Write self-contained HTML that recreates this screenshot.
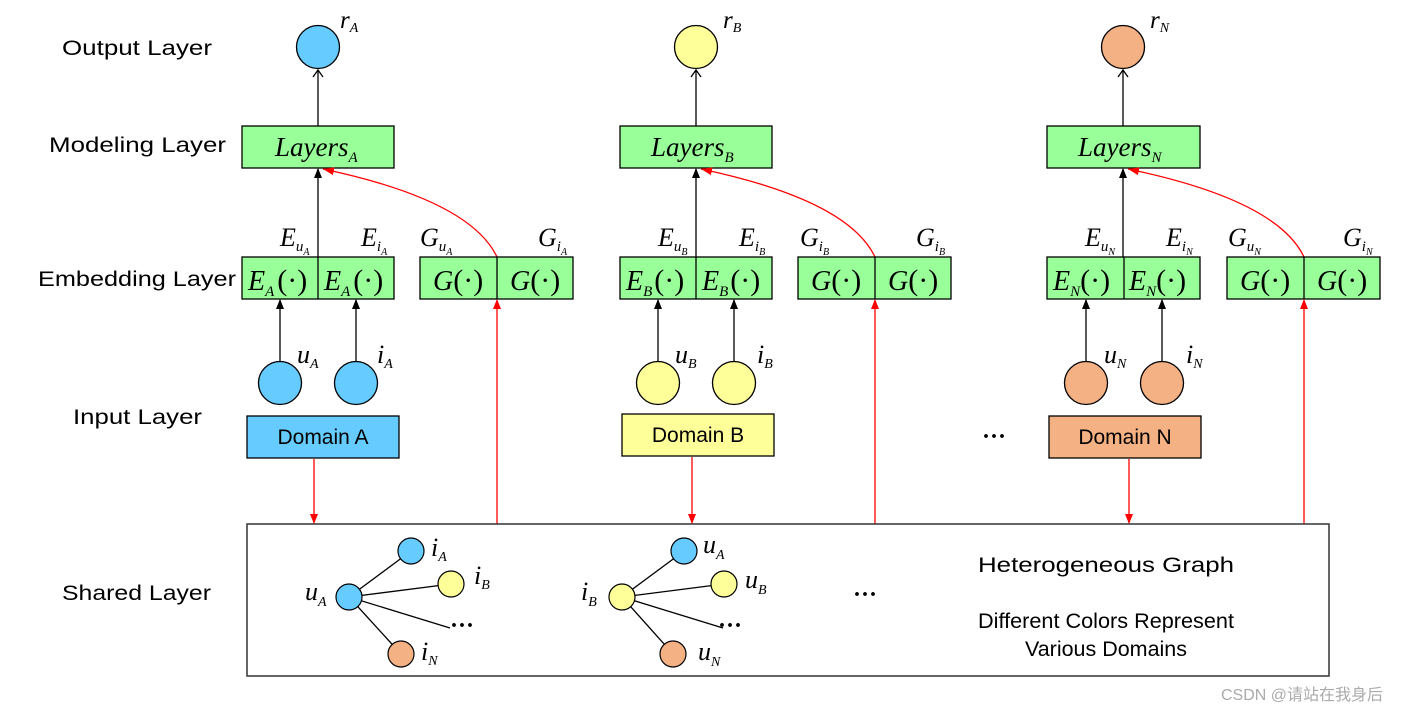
<!DOCTYPE html>
<html><head><meta charset="utf-8"><style>
html,body{margin:0;padding:0;background:#fff;}
svg{display:block;}
.lbl{font-family:"Liberation Sans",sans-serif;font-size:21px;fill:#000;}
.m{font-family:"Liberation Serif",serif;font-style:italic;fill:#000;}
.u{font-family:"Liberation Serif",serif;fill:#000;}
</style></head><body>
<svg width="1427" height="712" viewBox="0 0 1427 712" xmlns="http://www.w3.org/2000/svg">
<defs>
<marker id="ab" markerWidth="10" markerHeight="10" refX="9" refY="5" orient="auto" markerUnits="userSpaceOnUse" viewBox="0 0 10 10"><path d="M0,1 L10,5 L0,9 Z" fill="#000"/></marker>
<marker id="ar" markerWidth="10" markerHeight="10" refX="9" refY="5" orient="auto" markerUnits="userSpaceOnUse" viewBox="0 0 10 10"><path d="M0,1 L10,5 L0,9 Z" fill="#f00"/></marker>
<marker id="arc" markerWidth="12" markerHeight="12" refX="11" refY="5" orient="auto" markerUnits="userSpaceOnUse" viewBox="0 0 12 10"><path d="M0,1 L11,5 L0,9 Z" fill="#f00"/></marker>
<marker id="ao" markerWidth="12" markerHeight="12" refX="6" refY="1" orient="0" markerUnits="userSpaceOnUse" viewBox="0 0 12 12"><path d="M1,8 L6,1 L11,8" fill="none" stroke="#000" stroke-width="1.3"/></marker>
</defs>

<!-- left labels -->
<text class="lbl" x="62" y="55" textLength="150" lengthAdjust="spacingAndGlyphs">Output Layer</text>
<text class="lbl" x="49" y="152" textLength="177" lengthAdjust="spacingAndGlyphs">Modeling Layer</text>
<text class="lbl" x="38" y="286" textLength="198" lengthAdjust="spacingAndGlyphs">Embedding Layer</text>
<text class="lbl" x="73" y="424" textLength="129" lengthAdjust="spacingAndGlyphs">Input Layer</text>
<text class="lbl" x="62" y="600" textLength="149" lengthAdjust="spacingAndGlyphs">Shared Layer</text>

<!-- ===== Column A ===== -->
<g>
<line x1="318" y1="126" x2="318" y2="70" stroke="#000" stroke-width="1.3" marker-end="url(#ao)"/>
<circle cx="318" cy="47" r="21.5" fill="#66ccff" stroke="#000" stroke-width="1.3"/>
<text class="m" x="340" y="28" font-size="25">r<tspan font-size="14" dy="4">A</tspan></text>
<rect x="242" y="126" width="152" height="42" fill="#99ff99" stroke="#000" stroke-width="1.3"/>
<text class="m" x="275" y="156" font-size="27">Layers<tspan font-size="15" dy="6">A</tspan></text>
<line x1="318" y1="257" x2="318" y2="169" stroke="#000" stroke-width="1.3" marker-end="url(#ab)"/>
<path d="M497,257 Q470,200 323,169" fill="none" stroke="#f00" stroke-width="1.3" marker-end="url(#arc)"/>
<rect x="242" y="257" width="152" height="42" fill="#99ff99" stroke="#000" stroke-width="1.3"/>
<line x1="318" y1="257" x2="318" y2="299" stroke="#000" stroke-width="1.3"/>
<text class="m" x="248" y="290" font-size="28">E<tspan font-size="15" dy="6">A</tspan><tspan class="u" font-style="normal" font-size="30" dy="-6" dx="3">(·)</tspan></text>
<text class="m" x="324" y="290" font-size="28">E<tspan font-size="15" dy="6">A</tspan><tspan class="u" font-style="normal" font-size="30" dy="-6" dx="3">(·)</tspan></text>
<rect x="420" y="257" width="153" height="42" fill="#99ff99" stroke="#000" stroke-width="1.3"/>
<line x1="497" y1="257" x2="497" y2="299" stroke="#000" stroke-width="1.3"/>
<text class="m" x="433" y="290" font-size="28">G<tspan class="u" font-style="normal" font-size="30">(·)</tspan></text>
<text class="m" x="510" y="290" font-size="28">G<tspan class="u" font-style="normal" font-size="30">(·)</tspan></text>
<text class="m" x="280" y="246" font-size="26">E<tspan font-size="15" dy="5">u</tspan><tspan font-size="10" dy="4">A</tspan></text>
<text class="m" x="361" y="246" font-size="26">E<tspan font-size="15" dy="5">i</tspan><tspan font-size="10" dy="4">A</tspan></text>
<text class="m" x="420" y="246" font-size="26">G<tspan font-size="15" dy="5">u</tspan><tspan font-size="10" dy="4">A</tspan></text>
<text class="m" x="538" y="246" font-size="26">G<tspan font-size="15" dy="5">i</tspan><tspan font-size="10" dy="4">A</tspan></text>
<line x1="280" y1="362" x2="280" y2="300" stroke="#000" stroke-width="1.3" marker-end="url(#ab)"/>
<line x1="356" y1="362" x2="356" y2="300" stroke="#000" stroke-width="1.3" marker-end="url(#ab)"/>
<circle cx="280" cy="383" r="21.5" fill="#66ccff" stroke="#000" stroke-width="1.3"/>
<circle cx="356" cy="383" r="21.5" fill="#66ccff" stroke="#000" stroke-width="1.3"/>
<text class="m" x="297" y="363" font-size="26">u<tspan font-size="14" dy="5">A</tspan></text>
<text class="m" x="377" y="363" font-size="26">i<tspan font-size="14" dy="5">A</tspan></text>
<rect x="247" y="416" width="152" height="42" fill="#66ccff" stroke="#000" stroke-width="1.3"/>
<text class="lbl" x="323" y="444" text-anchor="middle">Domain A</text>
<line x1="314" y1="459" x2="314" y2="523" stroke="#f00" stroke-width="1.3" marker-end="url(#ar)"/>
<line x1="497" y1="524" x2="497" y2="300" stroke="#f00" stroke-width="1.3" marker-end="url(#ar)"/>
</g>

<!-- ===== Column B ===== -->
<g>
<line x1="696" y1="126" x2="696" y2="70" stroke="#000" stroke-width="1.3" marker-end="url(#ao)"/>
<circle cx="696" cy="47" r="21.5" fill="#ffff99" stroke="#000" stroke-width="1.3"/>
<text class="m" x="723" y="28" font-size="25">r<tspan font-size="14" dy="4">B</tspan></text>
<rect x="620" y="126" width="152" height="42" fill="#99ff99" stroke="#000" stroke-width="1.3"/>
<text class="m" x="651" y="156" font-size="27">Layers<tspan font-size="15" dy="6">B</tspan></text>
<line x1="696" y1="257" x2="696" y2="169" stroke="#000" stroke-width="1.3" marker-end="url(#ab)"/>
<path d="M875,257 Q848,200 701,169" fill="none" stroke="#f00" stroke-width="1.3" marker-end="url(#arc)"/>
<rect x="620" y="257" width="152" height="42" fill="#99ff99" stroke="#000" stroke-width="1.3"/>
<line x1="696" y1="257" x2="696" y2="299" stroke="#000" stroke-width="1.3"/>
<text class="m" x="626" y="290" font-size="28">E<tspan font-size="15" dy="6">B</tspan><tspan class="u" font-style="normal" font-size="30" dy="-6" dx="2">(·)</tspan></text>
<text class="m" x="702" y="290" font-size="28">E<tspan font-size="15" dy="6">B</tspan><tspan class="u" font-style="normal" font-size="30" dy="-6" dx="2">(·)</tspan></text>
<rect x="798" y="257" width="153" height="42" fill="#99ff99" stroke="#000" stroke-width="1.3"/>
<line x1="875" y1="257" x2="875" y2="299" stroke="#000" stroke-width="1.3"/>
<text class="m" x="811" y="290" font-size="28">G<tspan class="u" font-style="normal" font-size="30">(·)</tspan></text>
<text class="m" x="888" y="290" font-size="28">G<tspan class="u" font-style="normal" font-size="30">(·)</tspan></text>
<text class="m" x="658" y="246" font-size="26">E<tspan font-size="15" dy="5">u</tspan><tspan font-size="10" dy="4">B</tspan></text>
<text class="m" x="739" y="246" font-size="26">E<tspan font-size="15" dy="5">i</tspan><tspan font-size="10" dy="4">B</tspan></text>
<text class="m" x="800" y="246" font-size="26">G<tspan font-size="15" dy="5">i</tspan><tspan font-size="10" dy="4">B</tspan></text>
<text class="m" x="916" y="246" font-size="26">G<tspan font-size="15" dy="5">i</tspan><tspan font-size="10" dy="4">B</tspan></text>
<line x1="658" y1="362" x2="658" y2="300" stroke="#000" stroke-width="1.3" marker-end="url(#ab)"/>
<line x1="734" y1="362" x2="734" y2="300" stroke="#000" stroke-width="1.3" marker-end="url(#ab)"/>
<circle cx="658" cy="383" r="21.5" fill="#ffff99" stroke="#000" stroke-width="1.3"/>
<circle cx="734" cy="383" r="21.5" fill="#ffff99" stroke="#000" stroke-width="1.3"/>
<text class="m" x="675" y="363" font-size="26">u<tspan font-size="14" dy="5">B</tspan></text>
<text class="m" x="757" y="363" font-size="26">i<tspan font-size="14" dy="5">B</tspan></text>
<rect x="622" y="414" width="152" height="42" fill="#ffff99" stroke="#000" stroke-width="1.3"/>
<text class="lbl" x="698" y="442" text-anchor="middle">Domain B</text>
<line x1="692" y1="457" x2="692" y2="523" stroke="#f00" stroke-width="1.3" marker-end="url(#ar)"/>
<line x1="875" y1="524" x2="875" y2="300" stroke="#f00" stroke-width="1.3" marker-end="url(#ar)"/>
</g>

<!-- ===== Column N ===== -->
<g>
<line x1="1123" y1="126" x2="1123" y2="70" stroke="#000" stroke-width="1.3" marker-end="url(#ao)"/>
<circle cx="1123" cy="47" r="21.5" fill="#f4b183" stroke="#000" stroke-width="1.3"/>
<text class="m" x="1150" y="28" font-size="25">r<tspan font-size="14" dy="4">N</tspan></text>
<rect x="1047" y="126" width="153" height="42" fill="#99ff99" stroke="#000" stroke-width="1.3"/>
<text class="m" x="1078" y="156" font-size="27">Layers<tspan font-size="15" dy="6">N</tspan></text>
<line x1="1123" y1="257" x2="1123" y2="169" stroke="#000" stroke-width="1.3" marker-end="url(#ab)"/>
<path d="M1304,257 Q1277,200 1128,169" fill="none" stroke="#f00" stroke-width="1.3" marker-end="url(#arc)"/>
<rect x="1047" y="257" width="153" height="42" fill="#99ff99" stroke="#000" stroke-width="1.3"/>
<line x1="1124" y1="257" x2="1124" y2="299" stroke="#000" stroke-width="1.3"/>
<text class="m" x="1053" y="290" font-size="28">E<tspan font-size="15" dy="6">N</tspan><tspan class="u" font-style="normal" font-size="30" dy="-6">(·)</tspan></text>
<text class="m" x="1129" y="290" font-size="28">E<tspan font-size="15" dy="6">N</tspan><tspan class="u" font-style="normal" font-size="30" dy="-6">(·)</tspan></text>
<rect x="1227" y="257" width="153" height="42" fill="#99ff99" stroke="#000" stroke-width="1.3"/>
<line x1="1304" y1="257" x2="1304" y2="299" stroke="#000" stroke-width="1.3"/>
<text class="m" x="1240" y="290" font-size="28">G<tspan class="u" font-style="normal" font-size="30">(·)</tspan></text>
<text class="m" x="1317" y="290" font-size="28">G<tspan class="u" font-style="normal" font-size="30">(·)</tspan></text>
<text class="m" x="1085" y="246" font-size="26">E<tspan font-size="15" dy="5">u</tspan><tspan font-size="10" dy="4">N</tspan></text>
<text class="m" x="1166" y="246" font-size="26">E<tspan font-size="15" dy="5">i</tspan><tspan font-size="10" dy="4">N</tspan></text>
<text class="m" x="1228" y="246" font-size="26">G<tspan font-size="15" dy="5">u</tspan><tspan font-size="10" dy="4">N</tspan></text>
<text class="m" x="1343" y="246" font-size="26">G<tspan font-size="15" dy="5">i</tspan><tspan font-size="10" dy="4">N</tspan></text>
<line x1="1086" y1="362" x2="1086" y2="300" stroke="#000" stroke-width="1.3" marker-end="url(#ab)"/>
<line x1="1162" y1="362" x2="1162" y2="300" stroke="#000" stroke-width="1.3" marker-end="url(#ab)"/>
<circle cx="1086" cy="383" r="21.5" fill="#f4b183" stroke="#000" stroke-width="1.3"/>
<circle cx="1162" cy="383" r="21.5" fill="#f4b183" stroke="#000" stroke-width="1.3"/>
<text class="m" x="1104" y="363" font-size="26">u<tspan font-size="14" dy="5">N</tspan></text>
<text class="m" x="1186" y="363" font-size="26">i<tspan font-size="14" dy="5">N</tspan></text>
<rect x="1049" y="416" width="152" height="42" fill="#f4b183" stroke="#000" stroke-width="1.3"/>
<text class="lbl" x="1125" y="444" text-anchor="middle">Domain N</text>
<line x1="1129" y1="459" x2="1129" y2="523" stroke="#f00" stroke-width="1.3" marker-end="url(#ar)"/>
<line x1="1304" y1="524" x2="1304" y2="300" stroke="#f00" stroke-width="1.3" marker-end="url(#ar)"/>
</g>
<text class="u" x="982" y="444" font-size="24" font-weight="bold">···</text>

<!-- Shared layer -->
<rect x="247" y="524" width="1082" height="152" fill="none" stroke="#333" stroke-width="1.5"/>
<g stroke="#000" stroke-width="1.3">
<line x1="349" y1="597" x2="411" y2="551"/><line x1="349" y1="597" x2="451" y2="584"/>
<line x1="349" y1="597" x2="450" y2="628"/><line x1="349" y1="597" x2="401" y2="654"/>
<line x1="622" y1="597" x2="684" y2="551"/><line x1="622" y1="597" x2="724" y2="584"/>
<line x1="622" y1="597" x2="723" y2="628"/><line x1="622" y1="597" x2="673" y2="654"/>
</g>
<g stroke="#000" stroke-width="1.2">
<circle cx="349" cy="597" r="13" fill="#66ccff"/>
<circle cx="411" cy="551" r="13" fill="#66ccff"/>
<circle cx="451" cy="584" r="13" fill="#ffff99"/>
<circle cx="401" cy="654" r="13" fill="#f4b183"/>
<circle cx="622" cy="597" r="13" fill="#ffff99"/>
<circle cx="684" cy="551" r="13" fill="#66ccff"/>
<circle cx="724" cy="584" r="13" fill="#ffff99"/>
<circle cx="673" cy="654" r="13" fill="#f4b183"/>
</g>
<text class="m" x="305" y="600" font-size="26">u<tspan font-size="14" dy="6">A</tspan></text>
<text class="m" x="431" y="556" font-size="26">i<tspan font-size="14" dy="5">A</tspan></text>
<text class="m" x="474" y="584" font-size="26">i<tspan font-size="14" dy="5">B</tspan></text>
<text class="u" x="450" y="633" font-size="24" font-weight="bold">···</text>
<text class="m" x="421" y="660" font-size="26">i<tspan font-size="14" dy="5">N</tspan></text>
<text class="m" x="581" y="600" font-size="26">i<tspan font-size="14" dy="6">B</tspan></text>
<text class="m" x="703" y="553" font-size="26">u<tspan font-size="14" dy="6">A</tspan></text>
<text class="m" x="745" y="588" font-size="26">u<tspan font-size="14" dy="6">B</tspan></text>
<text class="u" x="718" y="633" font-size="24" font-weight="bold">···</text>
<text class="m" x="698" y="660" font-size="26">u<tspan font-size="14" dy="6">N</tspan></text>
<text class="u" x="853" y="602" font-size="24" font-weight="bold">···</text>
<text class="lbl" x="978" y="572" font-size="22" textLength="256" lengthAdjust="spacingAndGlyphs">Heterogeneous Graph</text>
<text class="lbl" x="978" y="628" font-size="18" textLength="256" lengthAdjust="spacingAndGlyphs">Different Colors Represent</text>
<text class="lbl" x="1025" y="656" font-size="18" textLength="162" lengthAdjust="spacingAndGlyphs">Various Domains</text>

<text x="1221" y="700" font-family="'Liberation Sans','Noto Sans CJK SC',sans-serif" font-size="16" fill="#aaa">CSDN @请站在我身后</text>
</svg>
</body></html>
